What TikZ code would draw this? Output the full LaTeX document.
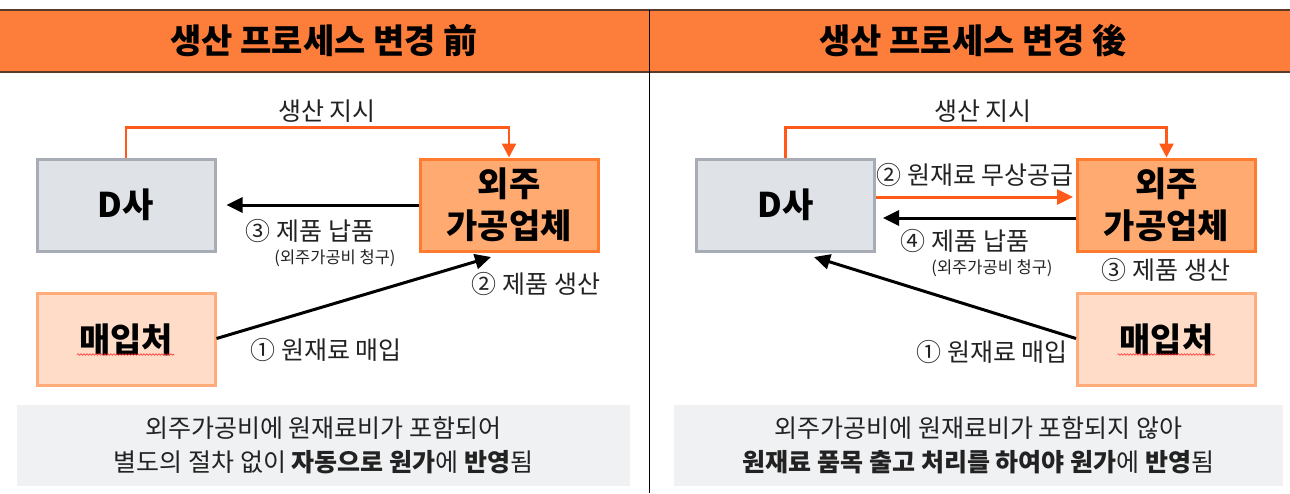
\documentclass[tikz,border=0pt]{standalone}
\usepackage{fontspec}
\setmainfont{Noto Sans CJK KR}
\usetikzlibrary{arrows.meta,decorations.pathmorphing}
\definecolor{hdrorange}{HTML}{FD7E3B}
\definecolor{hdrline}{HTML}{5A3A2A}
\definecolor{instrc}{HTML}{FF5A1A}
\definecolor{dfill}{HTML}{DFE2E6}
\definecolor{dline}{HTML}{A8ADB5}
\definecolor{ofill}{HTML}{FFAA70}
\definecolor{oline}{HTML}{FF7B30}
\definecolor{pfill}{HTML}{FFDCC8}
\definecolor{pline}{HTML}{FFAB7A}
\definecolor{notefill}{HTML}{F0F1F3}
\definecolor{txt}{HTML}{222222}
\tikzset{
  boxbase/.style={line width=3pt, minimum width=178pt, minimum height=92pt, inner sep=0pt, align=center, text=black, font=\fontsize{34}{42}\selectfont\bfseries},
  dbox/.style={boxbase, fill=dfill, draw=dline},
  obox/.style={boxbase, fill=ofill, draw=oline},
  pbox/.style={boxbase, fill=pfill, draw=pline},
  lbl/.style={inner sep=0pt, text=txt, font=\fontsize{25}{28}\selectfont},
  smalllbl/.style={inner sep=0pt, text=txt, font=\fontsize{16.5}{19}\selectfont},
  hdr/.style={inner sep=0pt, text=black, font=\fontsize{34}{38}\selectfont\bfseries},
  note/.style={fill=notefill, minimum width=613pt, minimum height=81pt, inner sep=0pt, align=center, text=txt, font=\fontsize{25}{34}\selectfont},
  blkarrow/.style={draw=black, line width=3pt, -{Triangle[length=16pt,width=15pt]}},
  instr/.style={draw=instrc, line width=2.5pt, -{Triangle[length=14pt,width=14pt]}},
  oarrow/.style={draw=instrc, line width=3pt, -{Triangle[length=16pt,width=15pt]}},
  squiggle/.style={draw=red!85, line width=0.6pt, decorate, decoration={snake, amplitude=0.8pt, segment length=3pt}},
}
\begin{document}
\begin{tikzpicture}[x=1pt,y=-1pt]
\useasboundingbox (0,0) rectangle (1290,493);
% header
\fill[hdrorange] (0,10) rectangle (1290,72);
\draw[hdrline, line width=2pt] (0,10) -- (1290,10);
\draw[hdrline, line width=2pt] (0,72) -- (1290,72);
\draw[black, line width=1pt] (649,10) -- (649,493);
\node[hdr] (h1) at (324,41) {생산 프로세스 변경 前};
\node[hdr] (h2) at (973,41) {생산 프로세스 변경 後};

% ---------- left ----------
\node[dbox] (d1) at (126,205) {D사};
\node[obox] (o1) at (509,205) {외주\\가공업체};
\node[pbox] (p1) at (126,339.5) {매입처};
\draw[squiggle] ([xshift=-49pt,yshift=-15pt]p1.center) -- ([xshift=48pt,yshift=-15pt]p1.center);

\draw[instr] (d1.north) -- ++(0,-30) -| (o1.north);
\node[lbl] (l1) at (327,111) {생산 지시};
\draw[blkarrow, shorten >=10pt] (o1.west) -- (d1.east);
\node[lbl] (l2) at (310,231) {③ 제품 납품};
\node[smalllbl] (l3) at (335,258) {(외주가공비 청구)};
\coordinate (t1) at (491,257);
\draw[blkarrow] ([yshift=1pt]p1.east) -- (t1);
\node[lbl] (l4) at (536,284) {② 제품 생산};
\node[lbl] (l5) at (326,350) {① 원재료 매입};

\node[note] (n1) at (323.5,445.5) {외주가공비에 원재료비가 포함되어\\별도의 절차 없이 \textbf{자동으로 원가}에 \textbf{반영}됨};

% ---------- right ----------
\node[dbox] (d2) at (785.5,205) {D사};
\node[obox] (o2) at (1166.5,205) {외주\\가공업체};
\node[pbox] (p2) at (1166.5,339.5) {매입처};
\draw[squiggle] ([xshift=-49pt,yshift=-15pt]p2.center) -- ([xshift=48pt,yshift=-15pt]p2.center);

\draw[instr] (d2.north) -- ++(0,-30) -| (o2.north);
\node[lbl] (r1) at (983,111) {생산 지시};
\draw[oarrow, shorten >=3pt] ([yshift=8pt]d2.east) -- ([yshift=8pt]o2.west);
\node[lbl] (r2) at (975,175) {② 원재료 무상공급};
\draw[blkarrow, shorten >=7pt] ([yshift=-13pt]o2.west) -- ([yshift=-13pt]d2.east);
\node[lbl] (r3) at (965,241) {④ 제품 납품};
\node[smalllbl] (r4) at (992,268) {(외주가공비 청구)};
\node[lbl] (r5) at (1166,270) {③ 제품 생산};
\coordinate (t2) at (814,257);
\draw[blkarrow] ([yshift=1pt]p2.west) -- (t2);
\node[lbl] (r6) at (992,352) {① 원재료 매입};

\node[note, minimum width=609pt] (n2) at (978.5,445.5) {외주가공비에 원재료비가 포함되지 않아\\\textbf{원재료 품목 출고 처리를 하여야 원가}에 \textbf{반영}됨};
\end{tikzpicture}
\end{document}
